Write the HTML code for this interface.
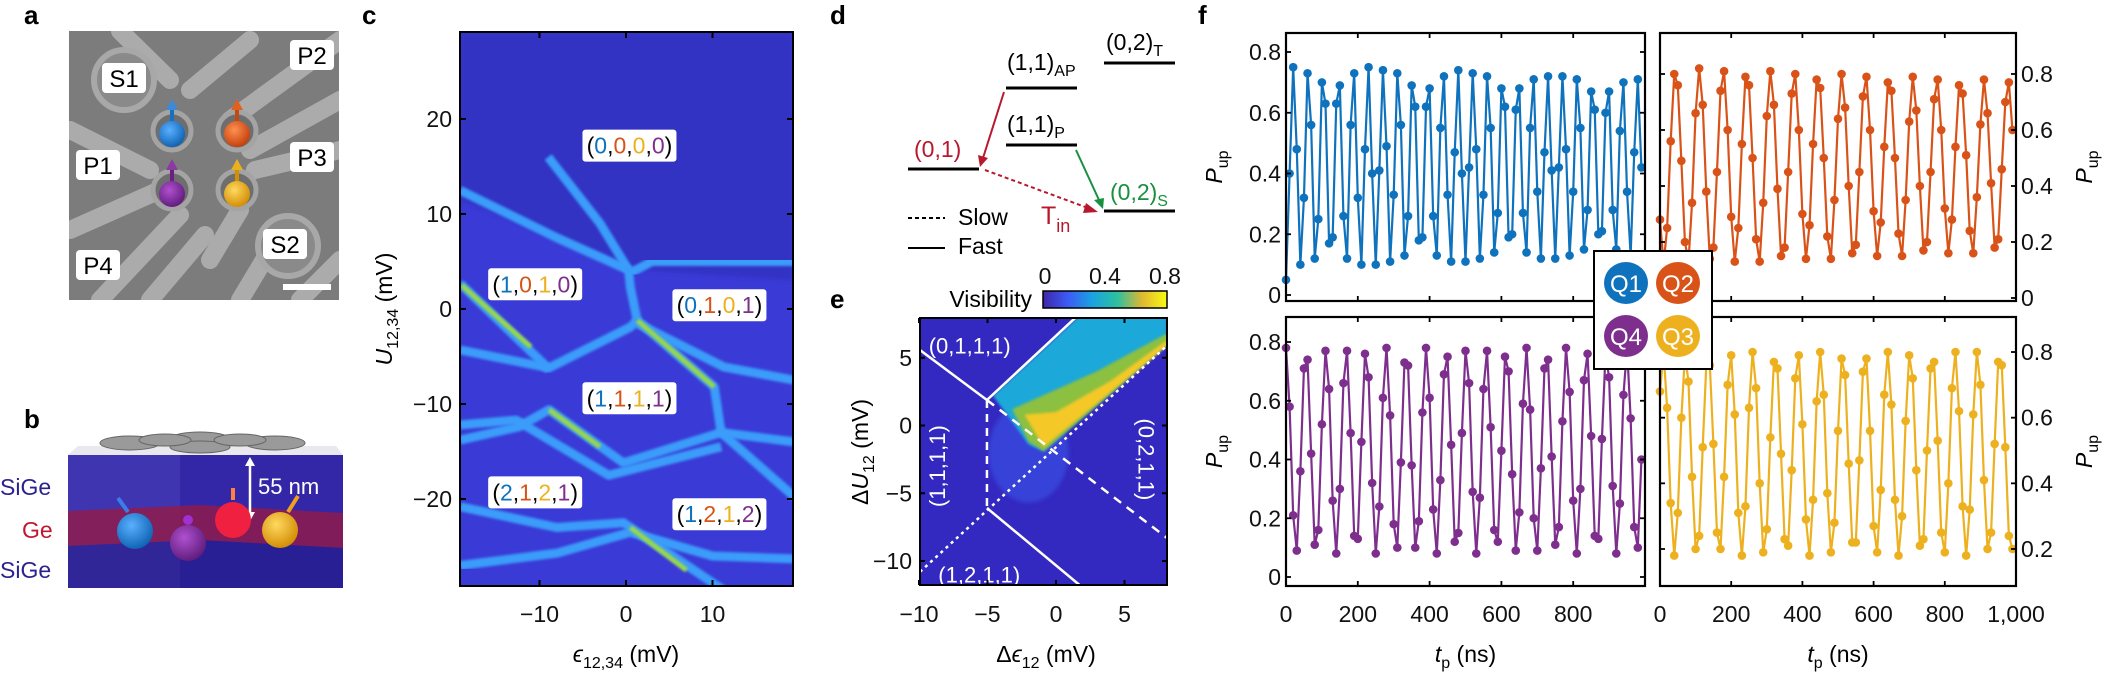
<!DOCTYPE html>
<html><head><meta charset="utf-8">
<style>
html,body{margin:0;padding:0;background:#fff;}
svg{display:block;font-family:"Liberation Sans",Arial,sans-serif;}
.pl{font-weight:bold;font-size:26px;}
.tk{font-size:23px;fill:#111;}
</style></head>
<body>
<svg id="fig" width="2112" height="678" viewBox="0 0 2112 678" xmlns="http://www.w3.org/2000/svg">
<defs>
 <filter id="blur2"><feGaussianBlur stdDeviation="2"/></filter>
 <filter id="blur1"><feGaussianBlur stdDeviation="1.2"/></filter>
 <clipPath id="clipA"><rect x="69" y="31" width="270" height="269"/></clipPath>
 <clipPath id="clipC"><rect x="460" y="32" width="333" height="554"/></clipPath>
 <clipPath id="clipE"><rect x="920" y="318" width="247" height="267"/></clipPath>
 <linearGradient id="cbar" x1="0" x2="1" y1="0" y2="0">
  <stop offset="0" stop-color="#3e26a8"/><stop offset="0.2" stop-color="#3b5bf5"/><stop offset="0.4" stop-color="#1aa3e0"/>
  <stop offset="0.6" stop-color="#2dc0a0"/><stop offset="0.8" stop-color="#e0b830"/><stop offset="1" stop-color="#f9fb14"/>
 </linearGradient>
 <radialGradient id="gBlue" cx="0.4" cy="0.35" r="0.7"><stop offset="0" stop-color="#5ab0ff"/><stop offset="1" stop-color="#0b5fb0"/></radialGradient>
 <radialGradient id="gOr" cx="0.4" cy="0.35" r="0.7"><stop offset="0" stop-color="#ff9050"/><stop offset="1" stop-color="#c03c08"/></radialGradient>
 <radialGradient id="gPu" cx="0.4" cy="0.35" r="0.7"><stop offset="0" stop-color="#b050d0"/><stop offset="1" stop-color="#5c1a78"/></radialGradient>
 <radialGradient id="gYe" cx="0.4" cy="0.35" r="0.7"><stop offset="0" stop-color="#ffd860"/><stop offset="1" stop-color="#d08a00"/></radialGradient>
</defs>

<text class="pl" x="24" y="24">a</text>
<text class="pl" x="24" y="428">b</text>
<text class="pl" x="362" y="24">c</text>
<text class="pl" x="830" y="24">d</text>
<text class="pl" x="830" y="308">e</text>
<text class="pl" x="1198" y="24">f</text>

<g id="panelA">
 <g clip-path="url(#clipA)">
  <rect x="69" y="31" width="270" height="269" fill="#7c7c7c"/>
  <g stroke="#b4b4b4" stroke-width="18" stroke-linecap="round" opacity="0.85">
   <line x1="70" y1="130" x2="150" y2="170"/>
   <line x1="70" y1="230" x2="160" y2="190"/>
   <line x1="100" y1="300" x2="180" y2="215"/>
   <line x1="150" y1="300" x2="205" y2="235"/>
   <line x1="230" y1="120" x2="340" y2="40"/>
   <line x1="250" y1="150" x2="340" y2="100"/>
   <line x1="255" y1="170" x2="340" y2="150"/>
   <line x1="190" y1="90" x2="250" y2="40"/>
   <line x1="120" y1="31" x2="170" y2="80"/>
   <line x1="210" y1="260" x2="240" y2="210"/>
   <line x1="300" y1="300" x2="340" y2="260"/>
   <line x1="240" y1="300" x2="270" y2="250"/>
  </g>
  <circle cx="124" cy="80" r="30" fill="#8a8a8a" stroke="#a8a8a8" stroke-width="6"/>
  <circle cx="288" cy="246" r="30" fill="#8a8a8a" stroke="#a8a8a8" stroke-width="6"/>
  <g fill="#6e6e6e" stroke="#a4a4a4" stroke-width="5">
   <circle cx="172" cy="131" r="19"/><circle cx="237" cy="131" r="19"/>
   <circle cx="172" cy="190" r="19"/><circle cx="237" cy="190" r="19"/>
  </g>
  <rect x="283" y="284" width="48" height="6" fill="#fff"/>
 </g>
 <g font-size="24" text-anchor="middle">
  <g><rect x="102" y="63" width="44" height="30" rx="4" fill="#fff"/><text x="124" y="87">S1</text></g>
  <g><rect x="290" y="40" width="44" height="30" rx="4" fill="#fff"/><text x="312" y="64">P2</text></g>
  <g><rect x="76" y="150" width="44" height="30" rx="4" fill="#fff"/><text x="98" y="174">P1</text></g>
  <g><rect x="290" y="142" width="44" height="30" rx="4" fill="#fff"/><text x="312" y="166">P3</text></g>
  <g><rect x="263" y="229" width="44" height="30" rx="4" fill="#fff"/><text x="285" y="253">S2</text></g>
  <g><rect x="76" y="250" width="44" height="30" rx="4" fill="#fff"/><text x="98" y="274">P4</text></g>
 </g>
 <g><line x1="172" y1="130" x2="172" y2="108" stroke="#1a6fc0" stroke-width="4"/><polygon points="166,110 178,110 172,99" fill="#3b8ad8"/><circle cx="172" cy="134" r="13" fill="url(#gBlue)"/></g>
 <g><line x1="237" y1="130" x2="237" y2="108" stroke="#c04a10" stroke-width="4"/><polygon points="231,110 243,110 237,99" fill="#e06020"/><circle cx="237" cy="134" r="13" fill="url(#gOr)"/></g>
 <g><line x1="172" y1="190" x2="172" y2="168" stroke="#6a2080" stroke-width="4"/><polygon points="166,170 178,170 172,159" fill="#8a3aa0"/><circle cx="172" cy="194" r="13" fill="url(#gPu)"/></g>
 <g><line x1="237" y1="190" x2="237" y2="168" stroke="#d09000" stroke-width="4"/><polygon points="231,170 243,170 237,159" fill="#eab020"/><circle cx="237" cy="194" r="13" fill="url(#gYe)"/></g>
</g>

<g id="panelB">
 <polygon points="68,455 343,455 343,588 68,588" fill="#3327a8"/>
 <polygon points="68,455 180,455 180,588 68,588" fill="#4a40b8" opacity="0.6"/>
 <polygon points="68,511 200,505 343,513 343,548 200,540 68,546" fill="#a01838" opacity="0.7"/>
 <polygon points="68,546 200,540 343,548 343,588 68,588" fill="#201880" opacity="0.5"/>
 <polygon points="68,455 343,455 336,446 78,446" fill="#e8e8ee"/>
 <g fill="#9a9a9a" stroke="#666" stroke-width="1">
  <ellipse cx="130" cy="443" rx="30" ry="7"/><ellipse cx="275" cy="443" rx="30" ry="7"/>
  <ellipse cx="200" cy="438" rx="28" ry="6"/><ellipse cx="200" cy="447" rx="30" ry="6"/>
  <ellipse cx="240" cy="440" rx="26" ry="6"/><ellipse cx="165" cy="440" rx="26" ry="6"/>
 </g>
 <line x1="250" y1="462" x2="250" y2="516" stroke="#fff" stroke-width="2.5"/>
 <polygon points="245,466 255,466 250,457" fill="#fff"/><polygon points="245,512 255,512 250,521" fill="#fff"/>
 <text x="258" y="494" fill="#fff" font-size="22">55 nm</text>
 <circle cx="135" cy="531" r="18" fill="url(#gBlue)"/><line x1="128" y1="512" x2="118" y2="498" stroke="#3a7ce8" stroke-width="4"/>
 <circle cx="188" cy="543" r="18" fill="url(#gPu)"/><circle cx="188" cy="520" r="5" fill="#a030d0"/>
 <circle cx="233" cy="520" r="18" fill="#f02040"/><line x1="233" y1="500" x2="233" y2="488" stroke="#ff8040" stroke-width="4"/>
 <circle cx="280" cy="530" r="18" fill="url(#gYe)"/><line x1="288" y1="512" x2="298" y2="496" stroke="#f0a020" stroke-width="4"/>
 <text x="0" y="495" font-size="23" fill="#2a2290">SiGe</text>
 <text x="22" y="538" font-size="23" fill="#c01830">Ge</text>
 <text x="0" y="578" font-size="23" fill="#2a2290">SiGe</text>
</g>

<g id="panelC"></g>

<g id="panelD" font-size="23">
 <g stroke="#000" stroke-width="3">
  <line x1="908" y1="169" x2="979" y2="169"/>
  <line x1="1006" y1="88" x2="1077" y2="88"/>
  <line x1="1104" y1="63" x2="1175" y2="63"/>
  <line x1="1006" y1="145" x2="1077" y2="145"/>
  <line x1="1104" y1="211" x2="1175" y2="211"/>
 </g>
 <text x="1106" y="50">(0,2)<tspan font-size="16" dy="6">T</tspan></text>
 <text x="1007" y="70">(1,1)<tspan font-size="16" dy="6">AP</tspan></text>
 <text x="1007" y="132">(1,1)<tspan font-size="16" dy="6">P</tspan></text>
 <text x="914" y="157" fill="#b8182e">(0,1)</text>
 <text x="1110" y="200" fill="#189040">(0,2)<tspan font-size="16" dy="6">S</tspan></text>
 <text x="1041" y="224" fill="#b8182e" font-size="25">T<tspan font-size="18" dy="8">in</tspan></text>
 <line x1="1004" y1="92" x2="983" y2="158" stroke="#b8182e" stroke-width="2"/>
 <polygon points="978,155 988,158 980,167" fill="#b8182e"/>
 <line x1="1076" y1="150" x2="1099" y2="200" stroke="#189040" stroke-width="2"/>
 <polygon points="1094,200 1104,198 1103,209" fill="#189040"/>
 <line x1="985" y1="170" x2="1088" y2="208" stroke="#b8182e" stroke-width="2" stroke-dasharray="4,3"/>
 <polygon points="1086,203 1098,212 1083,213" fill="#b8182e"/>
 <line x1="908" y1="218" x2="945" y2="218" stroke="#000" stroke-width="2" stroke-dasharray="4,3"/>
 <text x="958" y="225">Slow</text>
 <line x1="908" y1="248" x2="945" y2="248" stroke="#000" stroke-width="2"/>
 <text x="958" y="254">Fast</text>
</g>

<g id="panelE"></g>
<g id="panelF"></g>
</svg>

<script>
var NS = "http://www.w3.org/2000/svg";
function mk(parent, tag, attrs, text) {
  var e = document.createElementNS(NS, tag);
  for (var k in attrs) e.setAttribute(k, attrs[k]);
  if (text !== undefined) e.textContent = text;
  parent.appendChild(e);
  return e;
}

var cXTicks = [-10, 0, 10];
var cYTicks = [20, 10, 0, -10, -20];
var cTransitionLines = [
  [[-19.2, 12.5], [-8, 7.5], [0.3, 4.1], [0.5, 2.3], [1.3, -1.2]],
  [[-9, 16], [-3, 9], [0.3, 4.1]],
  [[1.3, -1.2], [10.2, -8.2], [11, -13], [19.5, -19.8]],
  [[-19.2, 2.7], [-9.6, -5.7], [-8.9, -6.4]],
  [[0.5, 3.8], [3, 5], [19.5, 5]],
  [[-19.2, -4.3], [-8.9, -6.2], [0.5, -1.9], [1.3, -1.2]],
  [[1.3, -1.5], [11.3, -6.1], [19.5, -7.5]],
  [[-19.2, -13.8], [-12.4, -12.4], [-8.9, -10.6], [-0.3, -16.2], [11, -13], [19.5, -14]],
  [[-19.2, -12.2], [-12.7, -11.7], [-2, -17.5], [11, -14.5]],
  [[-19.2, -20.8], [-8, -23], [-0.3, -22.5], [11.3, -29.6]],
  [[-19.2, -27], [-8, -25.7], [0.5, -23.5], [10, -26], [19.5, -26.3]]
];
var cBrightSegs = [
  [[1.3, -1.2], [10.2, -8.2]],
  [[-8.9, -10.6], [-3, -14.5]],
  [[-19, 2.5], [-11, -4]],
  [[0.5, -23], [7, -27.5]]
];
var cStateLabels = [
  {eps: 0.4, U: 17.2, d: ["0","0","0","0"]},
  {eps: -10.5, U: 2.6, d: ["1","0","1","0"]},
  {eps: 10.8, U: 0.4, d: ["0","1","0","1"]},
  {eps: 0.4, U: -9.4, d: ["1","1","1","1"]},
  {eps: -10.5, U: -19.3, d: ["2","1","2","1"]},
  {eps: 10.8, U: -21.6, d: ["1","2","1","2"]}
];
var qColors = ["#0f72bd", "#d95319", "#edb120", "#7e2f8e"];

(function () {
  var g = document.getElementById("panelC");
  var x0 = 460, x1 = 793, y0 = 32, y1 = 586;
  var xs = function (v) { return 626 + v * 8.65; };
  var ys = function (v) { return 309 - v * 9.5; };
  var cl = mk(g, "g", {"clip-path": "url(#clipC)"});
  mk(cl, "rect", {x: x0, y: y0, width: x1 - x0, height: y1 - y0, fill: "#3a3ad6"});
  mk(cl, "polygon", {points: "460,32 793,32 793,280 640,270 460,200", fill: "#3030c2", opacity: 0.9, filter: "url(#blur2)"});
  cTransitionLines.forEach(function (ln) {
    var pts = ln.map(function (p) { return xs(p[0]) + "," + ys(p[1]); }).join(" ");
    var pl = mk(cl, "polyline", {points: pts, fill: "none", stroke: "#3a9cfa", "stroke-width": 9, "stroke-linejoin": "round", filter: "url(#blur1)"});
    
    
  });
  cBrightSegs.forEach(function (ln) {
    var pts = ln.map(function (p) { return xs(p[0]) + "," + ys(p[1]); }).join(" ");
    var pl = mk(cl, "polyline", {points: pts, fill: "none", stroke: "#9ad848", "stroke-width": 5, filter: "url(#blur1)"});
    
    
  });
  mk(g, "rect", {x: x0, y: y0, width: x1 - x0, height: y1 - y0, fill: "none", stroke: "#000", "stroke-width": 2});
  cXTicks.forEach(function (t) {
    var x = xs(t);
    mk(g, "line", {x1: x, x2: x, y1: y1, y2: y1 - 6, stroke: "#000", "stroke-width": 2});
    mk(g, "line", {x1: x, x2: x, y1: y0, y2: y0 + 6, stroke: "#000", "stroke-width": 2});
    var tx = mk(g, "text", {x: x, y: 622, "text-anchor": "middle", class: "tk"}, t < 0 ? "\u2212" + (-t) : String(t));
    
    
  });
  cYTicks.forEach(function (t) {
    var y = ys(t);
    mk(g, "line", {x1: x0, x2: x0 + 6, y1: y, y2: y, stroke: "#000", "stroke-width": 2});
    mk(g, "line", {x1: x1, x2: x1 - 6, y1: y, y2: y, stroke: "#000", "stroke-width": 2});
    var tx = mk(g, "text", {x: 452, y: y + 8, "text-anchor": "end", class: "tk"}, t < 0 ? "\u2212" + (-t) : String(t));
    
    
  });
  var xt = mk(g, "text", {x: 626, y: 662, "text-anchor": "middle", "font-size": 23});
  xt.innerHTML = '<tspan font-style="italic">\u03f5</tspan><tspan font-size="16" dy="6">12,34</tspan><tspan dy="-6"> (mV)</tspan>';
  
  
  var yt = mk(g, "text", {transform: "translate(392,309) rotate(-90)", "text-anchor": "middle", "font-size": 23});
  yt.innerHTML = '<tspan font-style="italic">U</tspan><tspan font-size="16" dy="6">12,34</tspan><tspan dy="-6"> (mV)</tspan>';
  
  
  cStateLabels.forEach(function (s) {
    var cx = xs(s.eps), cy = ys(s.U);
    var lg = mk(g, "g", {});
    
    
    mk(lg, "rect", {x: cx - 47, y: cy - 16, width: 94, height: 32, rx: 3, fill: "#fff"});
    var t = mk(lg, "text", {x: cx, y: cy + 8, "text-anchor": "middle", "font-size": 23});
    var h = "(";
    for (var i = 0; i < 4; i++) { h += '<tspan fill="' + qColors[i] + '">' + s.d[i] + '</tspan>' + (i < 3 ? "," : ""); }
    t.innerHTML = h + ")";
  });
})();

var eXTicks = [-10, -5, 0, 5];
var eYTicks = [5, 0, -5, -10];
var eCbarTicks = [0, 0.4, 0.8];
var eRegionCyan = [[-4.6, 2.2], [1.6, 8], [8.1, 8], [8.1, 6], [-0.9, -1.9], [-2, -1.4]];
var eRegionGreen = [[-3.2, 1.2], [-1, 2.2], [3, 4], [8.1, 6.8], [8.1, 5.9], [-0.9, -1.9], [-2, -1.2]];
var eRegionYellow = [[-2.3, 0.8], [0, 1.0], [4, 3.3], [8.1, 6.3], [8.1, 5.9], [-0.9, -1.6]];
var eSolid1 = [[-9.93, 5.57], [-5.04, 1.88], [1.39, 7.93]];
var eDashV = [[-5.04, 1.88], [-5.04, -6.09]];
var eSolid2 = [[-5.04, -6.09], [1.75, -11.8]];
var eDotted = [[-9.93, -10.8], [8.1, 5.9]];
var eDashed = [[-5.04, 1.88], [8.1, -8.3]];

(function () {
  var g = document.getElementById("panelE");
  var x0 = 920, x1 = 1167, y0 = 318, y1 = 585;
  var xs = function (v) { return 1056 + v * 13.7; };
  var ys = function (v) { return 425.5 - v * 13.55; };
  var P = function (arr) { return arr.map(function (p) { return xs(p[0]) + "," + ys(p[1]); }).join(" "); };
  var cl = mk(g, "g", {"clip-path": "url(#clipE)"});
  mk(cl, "rect", {x: x0, y: y0, width: x1 - x0, height: y1 - y0, fill: "#3328c0"});
  mk(cl, "ellipse", {cx: xs(-2), cy: ys(-2), rx: 40, ry: 50, fill: "#3a55e8", opacity: 0.6, filter: "url(#blur2)"});
  var r1 = mk(cl, "polygon", {points: P(eRegionCyan), fill: "#1fa8d8", filter: "url(#blur1)"});
  
  
  var r2 = mk(cl, "polygon", {points: P(eRegionGreen), fill: "#8cc040", filter: "url(#blur1)"});
  
  
  var r3 = mk(cl, "polygon", {points: P(eRegionYellow), fill: "#f4c828", filter: "url(#blur1)"});
  
  
  var lines = [[eSolid1, ""], [eDashV, "8,6"], [eSolid2, ""], [eDotted, "3,4"], [eDashed, "9,7"]];
  lines.forEach(function (l) {
    var a = {points: P(l[0]), fill: "none", stroke: "#fff", "stroke-width": 2.5};
    if (l[1]) a["stroke-dasharray"] = l[1];
    var pl = mk(cl, "polyline", a);
    
    
  });
  var labs = [
    ["(0,1,1,1)", xs(-6.3), ys(5.9), 0],
    ["(1,2,1,1)", xs(-5.6), ys(-11.0), 0],
    ["(1,1,1,1)", xs(-8.7), ys(-3), -90],
    ["(0,2,1,1)", xs(6.6), ys(-2.5), 90]
  ];
  labs.forEach(function (l) {
    var t = mk(cl, "text", {x: 0, y: 0, "text-anchor": "middle", fill: "#fff", "font-size": 22, transform: "translate(" + l[1] + "," + l[2] + ") rotate(" + l[3] + ") translate(0,8)"}, l[0]);
    
    
  });
  mk(g, "rect", {x: x0, y: y0, width: x1 - x0, height: y1 - y0, fill: "none", stroke: "#000", "stroke-width": 2});
  eXTicks.forEach(function (t) {
    var x = xs(t);
    mk(g, "line", {x1: x, x2: x, y1: y1, y2: y1 - 5, stroke: "#000", "stroke-width": 2});
    mk(g, "line", {x1: x, x2: x, y1: y0, y2: y0 + 5, stroke: "#000", "stroke-width": 2});
    var tx = mk(g, "text", {x: x, y: 622, "text-anchor": "middle", class: "tk"}, t < 0 ? "\u2212" + (-t) : String(t));
    
    
  });
  eYTicks.forEach(function (t) {
    var y = ys(t);
    mk(g, "line", {x1: x0, x2: x0 + 5, y1: y, y2: y, stroke: "#000", "stroke-width": 2});
    mk(g, "line", {x1: x1, x2: x1 - 5, y1: y, y2: y, stroke: "#000", "stroke-width": 2});
    var tx = mk(g, "text", {x: 912, y: y + 8, "text-anchor": "end", class: "tk"}, t < 0 ? "\u2212" + (-t) : String(t));
    
    
  });
  var xt = mk(g, "text", {x: 1046, y: 662, "text-anchor": "middle", "font-size": 23});
  xt.innerHTML = '\u0394<tspan font-style="italic">\u03f5</tspan><tspan font-size="16" dy="6">12</tspan><tspan dy="-6"> (mV)</tspan>';
  
  
  var yt = mk(g, "text", {transform: "translate(868,452) rotate(-90)", "text-anchor": "middle", "font-size": 23});
  yt.innerHTML = '\u0394<tspan font-style="italic">U</tspan><tspan font-size="16" dy="6">12</tspan><tspan dy="-6"> (mV)</tspan>';
  
  
  var cb = mk(g, "rect", {x: 1043, y: 291, width: 124, height: 17, fill: "url(#cbar)", stroke: "#000", "stroke-width": 1.5});
  
  
  eCbarTicks.forEach(function (t) {
    var x = 1045 + t / 0.8 * 120;
    var tx = mk(g, "text", {x: x, y: 284, "text-anchor": "middle", class: "tk"}, String(t));
    
    
  });
  var vt = mk(g, "text", {x: 1032, y: 307, "text-anchor": "end", "font-size": 23}, "Visibility");
  
  
})();

var tValues = [0,10,20,30,40,50,60,70,80,90,100,110,120,130,140,150,160,170,180,190,200,210,220,230,240,250,260,270,280,290,300,310,320,330,340,350,360,370,380,390,400,410,420,430,440,450,460,470,480,490,500,510,520,530,540,550,560,570,580,590,600,610,620,630,640,650,660,670,680,690,700,710,720,730,740,750,760,770,780,790,800,810,820,830,840,850,860,870,880,890,900,910,920,930,940,950,960,970,980,990];
var q1Values = [0.05,0.40,0.75,0.48,0.10,0.32,0.73,0.56,0.12,0.25,0.70,0.63,0.17,0.19,0.63,0.69,0.26,0.12,0.56,0.73,0.32,0.10,0.48,0.75,0.40,
 0.10,0.41,0.74,0.49,0.11,0.33,0.73,0.56,0.13,0.26,0.69,0.62,0.18,0.19,0.62,0.68,0.26,0.13,0.55,0.72,0.33,0.11,0.47,0.74,0.40,
 0.11,0.42,0.73,0.48,0.12,0.33,0.72,0.55,0.14,0.27,0.68,0.62,0.19,0.20,0.61,0.68,0.27,0.14,0.55,0.71,0.34,0.12,0.47,0.72,0.41,
 0.12,0.42,0.72,0.48,0.13,0.34,0.71,0.55,0.15,0.28,0.67,0.61,0.20,0.21,0.60,0.67,0.28,0.15,0.54,0.70,0.34,0.13,0.47,0.71,0.42];
var q2Values = [0.28,0.12,0.25,0.56,0.80,0.76,0.49,0.20,0.13,0.34,0.66,0.82,0.69,0.38,0.14,0.18,0.45,0.74,0.81,0.60,
 0.29,0.13,0.25,0.55,0.79,0.76,0.50,0.21,0.13,0.34,0.65,0.81,0.69,0.39,0.15,0.18,0.45,0.73,0.80,0.60,
 0.30,0.14,0.26,0.55,0.78,0.75,0.50,0.22,0.14,0.35,0.64,0.80,0.68,0.40,0.16,0.19,0.45,0.72,0.79,0.60,
 0.31,0.15,0.27,0.54,0.77,0.74,0.50,0.23,0.15,0.35,0.63,0.79,0.67,0.40,0.17,0.20,0.45,0.71,0.78,0.60,
 0.32,0.16,0.28,0.54,0.76,0.73,0.51,0.24,0.16,0.36,0.62,0.78,0.66,0.41,0.18,0.21,0.46,0.70,0.77,0.60];
var q4Values = [0.78,0.58,0.21,0.09,0.36,0.71,0.74,0.42,0.11,0.16,0.52,0.77,0.64,0.26,0.08,0.30,0.66,0.77,0.49,0.14,
 0.13,0.46,0.76,0.68,0.32,0.08,0.24,0.61,0.78,0.55,0.18,0.10,0.39,0.73,0.72,0.38,0.10,0.19,0.56,0.78,
 0.61,0.23,0.08,0.33,0.69,0.75,0.45,0.12,0.15,0.49,0.77,0.66,0.29,0.08,0.27,0.64,0.77,0.51,0.16,0.12,
 0.43,0.75,0.70,0.35,0.09,0.22,0.59,0.78,0.57,0.20,0.09,0.37,0.71,0.74,0.41,0.11,0.17,0.53,0.78,0.63,
 0.26,0.08,0.30,0.67,0.76,0.48,0.14,0.13,0.47,0.76,0.68,0.31,0.08,0.25,0.62,0.78,0.54,0.17,0.10,0.40];
var q3Values = [0.68,0.80,0.63,0.34,0.18,0.31,0.60,0.79,0.71,0.42,0.20,0.24,0.51,0.76,0.76,0.52,0.25,0.20,0.42,0.70,
 0.79,0.61,0.31,0.18,0.33,0.63,0.80,0.69,0.40,0.19,0.26,0.54,0.77,0.75,0.49,0.23,0.21,0.44,0.72,0.79,
 0.58,0.29,0.18,0.35,0.65,0.80,0.67,0.37,0.19,0.28,0.56,0.78,0.73,0.46,0.22,0.22,0.47,0.74,0.78,0.56,
 0.27,0.19,0.38,0.67,0.80,0.64,0.35,0.18,0.30,0.59,0.79,0.72,0.44,0.21,0.23,0.50,0.75,0.77,0.53,0.25,
 0.19,0.40,0.69,0.80,0.62,0.33,0.18,0.32,0.61,0.80,0.70,0.41,0.20,0.25,0.52,0.77,0.76,0.51,0.24,0.20];
var fXTicksLeft = [0, 200, 400, 600, 800];
var fXTicksRight = [0, 200, 400, 600, 800, 1000];
var fXTickLabelsRight = ["0", "200", "400", "600", "800", "1,000"];
var fYTicksQ1 = [0, 0.2, 0.4, 0.6, 0.8];
var fYTicksQ2 = [0, 0.2, 0.4, 0.6, 0.8];
var fYTicksQ4 = [0, 0.2, 0.4, 0.6, 0.8];
var fYTicksQ3 = [0.2, 0.4, 0.6, 0.8];

(function () {
  var g = document.getElementById("panelF");
  var panels = [
    {name: "q1", vals: q1Values, col: "#0f72bd", x0: 1286, x1: 1645, y0: 33, y1: 301, yz: 295, yk: 303.75, yv0: 0, ticks: fYTicksQ1, side: "left", xlab: false},
    {name: "q2", vals: q2Values, col: "#d95319", x0: 1660, x1: 2016, y0: 33, y1: 301, yz: 298, yk: 280, yv0: 0, ticks: fYTicksQ2, side: "right", xlab: false},
    {name: "q4", vals: q4Values, col: "#7e2f8e", x0: 1286, x1: 1645, y0: 317, y1: 586, yz: 577, yk: 293.75, yv0: 0, ticks: fYTicksQ4, side: "left", xlab: true, xt: fXTicksLeft},
    {name: "q3", vals: q3Values, col: "#edb120", x0: 1660, x1: 2016, y0: 317, y1: 586, yz: 549, yk: 328.3, yv0: 0.2, ticks: fYTicksQ3, side: "right", xlab: true, xt: fXTicksRight, xl: fXTickLabelsRight}
  ];
  panels.forEach(function (p) {
    var pg = mk(g, "g", {});
    
    
    var xs = function (t) { return p.x0 + t / 1000 * (p.x1 - p.x0); };
    var ys = function (v) { return p.yz - (v - p.yv0) * p.yk; };
    var pts = tValues.map(function (t, i) { return xs(t) + "," + ys(p.vals[i]); }).join(" ");
    var line = mk(pg, "polyline", {points: pts, fill: "none", stroke: p.col, "stroke-width": 2.2, "stroke-linejoin": "round"});
    
    
    tValues.forEach(function (t, i) {
      var c = mk(pg, "circle", {cx: xs(t), cy: ys(p.vals[i]), r: 4.3, fill: p.col});
      
      
    });
    mk(pg, "rect", {x: p.x0, y: p.y0, width: p.x1 - p.x0, height: p.y1 - p.y0, fill: "none", stroke: "#000", "stroke-width": 2.2});
    [0, 200, 400, 600, 800, 1000].forEach(function (t) {
      var x = xs(t);
      mk(pg, "line", {x1: x, x2: x, y1: p.y1, y2: p.y1 - 5, stroke: "#000", "stroke-width": 1.8});
      mk(pg, "line", {x1: x, x2: x, y1: p.y0, y2: p.y0 + 5, stroke: "#000", "stroke-width": 1.8});
    });
    p.ticks.forEach(function (v) {
      var y = ys(v);
      mk(pg, "line", {x1: p.x0, x2: p.x0 + 5, y1: y, y2: y, stroke: "#000", "stroke-width": 1.8});
      mk(pg, "line", {x1: p.x1, x2: p.x1 - 5, y1: y, y2: y, stroke: "#000", "stroke-width": 1.8});
      var lx = p.side === "left" ? p.x0 - 5 : p.x1 + 5;
      var tx = mk(pg, "text", {x: lx, y: y + 8, "text-anchor": p.side === "left" ? "end" : "start", class: "tk"}, String(v));
      
      
    });
    var ax = p.side === "left" ? 1222 : 2092;
    var yt = mk(pg, "text", {transform: "translate(" + ax + "," + ((p.y0 + p.y1) / 2) + ") rotate(-90)", "text-anchor": "middle", "font-size": 23});
    yt.innerHTML = '<tspan font-style="italic">P</tspan><tspan font-size="16" dy="6">up</tspan>';
    
    
    if (p.xlab) {
      p.xt.forEach(function (t, i) {
        var tx = mk(pg, "text", {x: xs(t), y: 622, "text-anchor": "middle", class: "tk"}, p.xl ? p.xl[i] : String(t));
        
        
      });
      var xt = mk(pg, "text", {x: (p.x0 + p.x1) / 2, y: 662, "text-anchor": "middle", "font-size": 23});
      xt.innerHTML = '<tspan font-style="italic">t</tspan><tspan font-size="16" dy="6">p</tspan><tspan dy="-6"> (ns)</tspan>';
      
      
    }
  });
  var lg = mk(g, "g", {});
  
  
  mk(lg, "rect", {x: 1594, y: 251, width: 118, height: 118, fill: "#fff", stroke: "#000", "stroke-width": 2});
  var ents = [["Q1", "#0f72bd", 1626, 283], ["Q2", "#d95319", 1678, 283], ["Q4", "#7e2f8e", 1626, 336], ["Q3", "#edb120", 1678, 336]];
  ents.forEach(function (e) {
    var eg = mk(lg, "g", {});
    
    
    mk(eg, "ellipse", {cx: e[2], cy: e[3], rx: 22, ry: 21, fill: e[1]});
    mk(eg, "text", {x: e[2], y: e[3] + 9, "text-anchor": "middle", fill: "#fff", "font-size": 24}, e[0]);
  });
})();
</script>
</body></html>
